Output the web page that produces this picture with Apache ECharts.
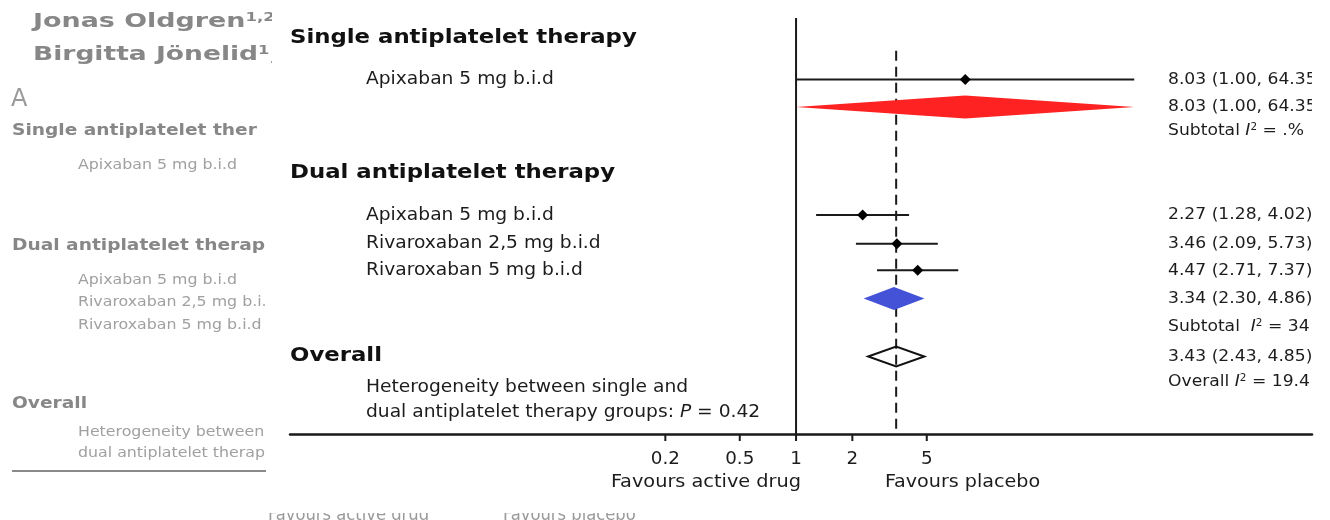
<!DOCTYPE html>
<html><head><meta charset="utf-8">
<script src="https://cdn.jsdelivr.net/npm/echarts@6/dist/echarts.min.js"></script>
<style>html,body{margin:0;padding:0;background:#fff}#c{width:1330px;height:520px}</style>
</head><body><div id="c"></div>
<script>
// ---------- data ----------
const studyNames = ['Apixaban 5 mg b.i.d', 'Apixaban 5 mg b.i.d', 'Rivaroxaban 2,5 mg b.i.d', 'Rivaroxaban 5 mg b.i.d'];
const studyRows = [2.25, 7.2, 8.25, 9.22];
const studyEst = [8.03, 2.27, 3.46, 4.47];
const studyLow = [1.00, 1.28, 2.09, 2.71];
const studyHigh = [64.35, 4.02, 5.73, 7.37];

const pooledNames = ['Single antiplatelet therapy subtotal', 'Dual antiplatelet therapy subtotal', 'Overall'];
const pooledRows = [3.25, 10.25, 12.37];
const pooledEst = [8.03, 3.34, 3.43];
const pooledLow = [1.00, 2.30, 2.43];
const pooledHigh = [64.35, 4.86, 4.85];
const pooledFill = ['#ff2222', '#4352d6', 'none'];

const groupHeaders = ['Single antiplatelet therapy', 'Dual antiplatelet therapy', 'Overall'];
const headerRows = [0.72, 5.66, 12.37];

const i2Names = ['Subtotal', 'Subtotal ', 'Overall'];
const i2Values = ['.%', '34', '19.4'];
const i2Rows = [4.13, 11.27, 13.3];

const heteroLines = ['Heterogeneity between single and', 'dual antiplatelet therapy groups: '];
const heteroP = '0.42';
const heteroRows = [13.5, 14.4];

const tickValues = [0.2, 0.5, 1, 2, 5];
const tickLabels = ['0.2', '0.5', '1', '2', '5'];
const nullValue = 1;
const dashedRefValue = 3.43;
const dashedTopRow = 1.2;
const favourLabels = ['Favours active drug', 'Favours placebo'];

// ---------- layout ----------
const Y_MAX = 15.2;
const F = '"DejaVu Sans", "Open Sans", sans-serif';
const FN = '"DejaVu Sans Condensed", "Liberation Sans Narrow", "Open Sans", sans-serif';
const TXT = '#1c1c1c';
const X_LABEL = 366, X_HEADER = 290, X_RIGHT = 1168;
const SX_LABEL = 1.08, SX_HEAD = 1.2, SX_RIGHT = 1.04;

function fmt(e, l, h) { return e.toFixed(2) + ' (' + l.toFixed(2) + ', ' + h.toFixed(2) + ')'; }
function rightText(t, y) {
  return { type: 'text', x: X_RIGHT, y: y, scaleX: SX_RIGHT, style: { text: t, fontFamily: F, fontSize: 16.5, fill: TXT, align: 'left', verticalAlign: 'middle' } };
}

const chart = echarts.init(document.getElementById('c'), null, { renderer: 'canvas' });

const gray1 = '#878787', gray2 = '#a0a0a0';
const CUT = 272;
function gtext(x, y, t, size, bold, fill, sx) {
  return { type: 'text', x: x, y: y, scaleX: sx, style: { text: t, fontFamily: F, fontSize: size, fontWeight: bold ? 'bold' : 'normal', fill: fill, verticalAlign: 'middle',
    width: (CUT - x) / sx, overflow: 'truncate', ellipsis: '' } };
}
const titleRich = { b: { fontFamily: F, fontSize: 19.5, fontWeight: 'bold', fill: gray1 }, s: { fontFamily: F, fontSize: 12, fontWeight: 'bold', fill: gray1, verticalAlign: 'top' } };
const bgGraphics = [
  { type: 'text', x: 33, y: 22, scaleX: 1.38, style: { text: '{b|Jonas Oldgren}{s|1,2*}', verticalAlign: 'middle', rich: titleRich } },
  { type: 'text', x: 33, y: 55, scaleX: 1.36, style: { text: '{b|Birgitta Jönelid}{s|1}{b|,}', verticalAlign: 'middle', rich: titleRich } },
  { type: 'text', x: 11, y: 100, style: { text: 'A', fontFamily: F, fontSize: 24, fill: '#9a9a9a', verticalAlign: 'middle' } },
  gtext(12, 131, 'Single antiplatelet therapy', 15.5, true, gray1, 1.2),
  gtext(78, 165, 'Apixaban 5 mg b.i.d', 14.5, false, gray2, 1.09),
  gtext(12, 246, 'Dual antiplatelet therapy', 15.5, true, gray1, 1.2),
  gtext(78, 280, 'Apixaban 5 mg b.i.d', 14.5, false, gray2, 1.09),
  gtext(78, 302, 'Rivaroxaban 2,5 mg b.i.d', 14.5, false, gray2, 1.09),
  gtext(78, 325, 'Rivaroxaban 5 mg b.i.d', 14.5, false, gray2, 1.09),
  gtext(12, 404, 'Overall', 15.5, true, gray1, 1.2),
  gtext(78, 432, 'Heterogeneity between single and', 14.5, false, gray2, 1.09),
  gtext(78, 453, 'dual antiplatelet therapy groups', 14.5, false, gray2, 1.09),
  { type: 'line', shape: { x1: 12, y1: 471, x2: 266, y2: 471 }, style: { stroke: '#8a8a8a', lineWidth: 2 } },
  { type: 'text', x: 268, y: 516, scaleX: 1.07, style: { text: 'Favours active drug', fontFamily: FN, fontSize: 17, fill: '#9a9a9a', verticalAlign: 'middle' } },
  { type: 'text', x: 503, y: 516, scaleX: 1.07, style: { text: 'Favours placebo', fontFamily: FN, fontSize: 17, fill: '#9a9a9a', verticalAlign: 'middle' } },
  // edge of the overlaid figure that hides the background text
  { type: 'rect', shape: { x: 272, y: 0, width: 17, height: 70 }, style: { fill: '#fff' } },
  { type: 'rect', shape: { x: 262, y: 495, width: 400, height: 18 }, style: { fill: '#fff' } },
  // favour labels for main plot
  { type: 'text', x: 801, y: 482, scaleX: 1.16, style: { text: favourLabels[0], fontFamily: FN, fontSize: 18.5, fill: TXT, align: 'right', verticalAlign: 'middle' } },
  { type: 'text', x: 885, y: 482, scaleX: 1.15, style: { text: favourLabels[1], fontFamily: FN, fontSize: 18.5, fill: TXT, align: 'left', verticalAlign: 'middle' } }
];

const option = {
  backgroundColor: '#ffffff',
  animation: false,
  grid: { left: 290, right: 18, top: 18, bottom: 86 },
  xAxis: {
    type: 'log', logBase: 10, min: 0.001968, max: 574, position: 'bottom',
    axisLine: { show: true, onZero: false, lineStyle: { color: '#1a1a1a', width: 2.5 } },
    axisTick: { show: false }, axisLabel: { show: false }, splitLine: { show: false }
  },
  yAxis: { type: 'value', inverse: true, min: 0, max: Y_MAX, show: false },
  graphic: bgGraphics,
  series: [
    { // reference lines
      type: 'custom', z: 1, clip: false,
      data: [[nullValue, 0, 0], [dashedRefValue, dashedTopRow, 1]],
      encode: { x: 0, y: 1 },
      renderItem(params, api) {
        const top = api.coord([api.value(0), api.value(1)]);
        const bot = api.coord([api.value(0), Y_MAX]);
        const dashed = api.value(2) === 1;
        return { type: 'line', shape: { x1: top[0], y1: top[1], x2: bot[0], y2: bot[1] },
          style: { stroke: '#1a1a1a', lineWidth: 2, lineDash: dashed ? [10, 6] : null } };
      }
    },
    { // axis ticks & tick labels
      type: 'custom', z: 2, clip: false,
      data: tickValues.map((v, i) => [v, Y_MAX, i]),
      encode: { x: 0, y: 1 },
      renderItem(params, api) {
        const p = api.coord([api.value(0), api.value(1)]);
        const i = api.value(2);
        return { type: 'group', children: [
          { type: 'line', shape: { x1: p[0], y1: p[1], x2: p[0], y2: p[1] + 7 }, style: { stroke: '#1a1a1a', lineWidth: 2 } },
          { type: 'text', x: p[0], y: p[1] + 25, scaleX: 1.1, style: { text: tickLabels[i], fontFamily: FN, fontSize: 18.5, fill: TXT, align: 'center', verticalAlign: 'middle' } }
        ] };
      }
    },
    { // pooled diamonds
      type: 'custom', z: 3, clip: true,
      data: pooledEst.map((e, i) => [e, pooledRows[i], pooledLow[i], pooledHigh[i], i]),
      encode: { x: 0, y: 1 },
      renderItem(params, api) {
        const r = api.value(1), i = api.value(4);
        const c = api.coord([api.value(0), r]);
        const lo = api.coord([api.value(2), r]);
        const hi = api.coord([api.value(3), r]);
        const h = i === 2 ? 10 : 11.5;
        const open = pooledFill[i] === 'none';
        return { type: 'group', children: [
          { type: 'polygon', shape: { points: [[lo[0], c[1]], [c[0], c[1] - h], [hi[0], c[1]], [c[0], c[1] + h]] },
            style: open ? { fill: 'none', stroke: '#111', lineWidth: 2 } : { fill: pooledFill[i] } },
          rightText(fmt(pooledEst[i], pooledLow[i], pooledHigh[i]), c[1])
        ] };
      }
    },
    { // individual studies
      type: 'custom', z: 4, clip: true,
      data: studyEst.map((e, i) => [e, studyRows[i], studyLow[i], studyHigh[i], i]),
      encode: { x: 0, y: 1 },
      renderItem(params, api) {
        const r = api.value(1), i = api.value(4);
        const c = api.coord([api.value(0), r]);
        const lo = api.coord([api.value(2), r]);
        const hi = api.coord([api.value(3), r]);
        const s = 5.5;
        return { type: 'group', children: [
          { type: 'line', shape: { x1: lo[0], y1: c[1], x2: hi[0], y2: c[1] }, style: { stroke: '#1a1a1a', lineWidth: 2 } },
          { type: 'polygon', shape: { points: [[c[0] - s, c[1]], [c[0], c[1] - s], [c[0] + s, c[1]], [c[0], c[1] + s]] }, style: { fill: '#000' } },
          { type: 'text', x: X_LABEL, y: c[1], scaleX: SX_LABEL, style: { text: studyNames[i], fontFamily: F, fontSize: 17.3, fill: TXT, align: 'left', verticalAlign: 'middle' } },
          rightText(fmt(studyEst[i], studyLow[i], studyHigh[i]), c[1])
        ] };
      }
    },
    { // group headers
      type: 'custom', z: 5, clip: false,
      data: headerRows.map((r, i) => [nullValue, r, i]),
      encode: { x: 0, y: 1 },
      renderItem(params, api) {
        const c = api.coord([api.value(0), api.value(1)]);
        return { type: 'text', x: X_HEADER, y: c[1], scaleX: SX_HEAD, style: { text: groupHeaders[api.value(2)], fontFamily: F, fontSize: 19, fontWeight: 'bold', fill: '#111', align: 'left', verticalAlign: 'middle' } };
      }
    },
    { // I² lines
      type: 'custom', z: 5, clip: true,
      data: i2Rows.map((r, i) => [nullValue, r, i]),
      encode: { x: 0, y: 1 },
      renderItem(params, api) {
        const c = api.coord([api.value(0), api.value(1)]);
        const i = api.value(2);
        return { type: 'text', x: X_RIGHT, y: c[1], scaleX: SX_RIGHT, style: {
          text: '{n|' + i2Names[i] + ' }{i|I}{s|2}{n| = ' + i2Values[i] + '}', align: 'left', verticalAlign: 'middle',
          rich: { n: { fontFamily: F, fontSize: 16.5, fill: TXT }, i: { fontFamily: F, fontSize: 16.5, fontStyle: 'italic', fill: TXT },
                  s: { fontFamily: F, fontSize: 10, fill: TXT, verticalAlign: 'top' } } } };
      }
    },
    { // heterogeneity text
      type: 'custom', z: 5, clip: false,
      data: heteroRows.map((r, i) => [nullValue, r, i]),
      encode: { x: 0, y: 1 },
      renderItem(params, api) {
        const c = api.coord([api.value(0), api.value(1)]);
        const i = api.value(2);
        const t = i === 0 ? '{n|' + heteroLines[0] + '}' : '{n|' + heteroLines[1] + '}{i|P}{n| = ' + heteroP + '}';
        return { type: 'text', x: X_LABEL, y: c[1], scaleX: SX_LABEL, style: { text: t, align: 'left', verticalAlign: 'middle',
          rich: { n: { fontFamily: F, fontSize: 17.3, fill: TXT }, i: { fontFamily: F, fontSize: 17.3, fontStyle: 'italic', fill: TXT } } } };
      }
    }
  ]
};
chart.setOption(option);
</script>
</body></html>
